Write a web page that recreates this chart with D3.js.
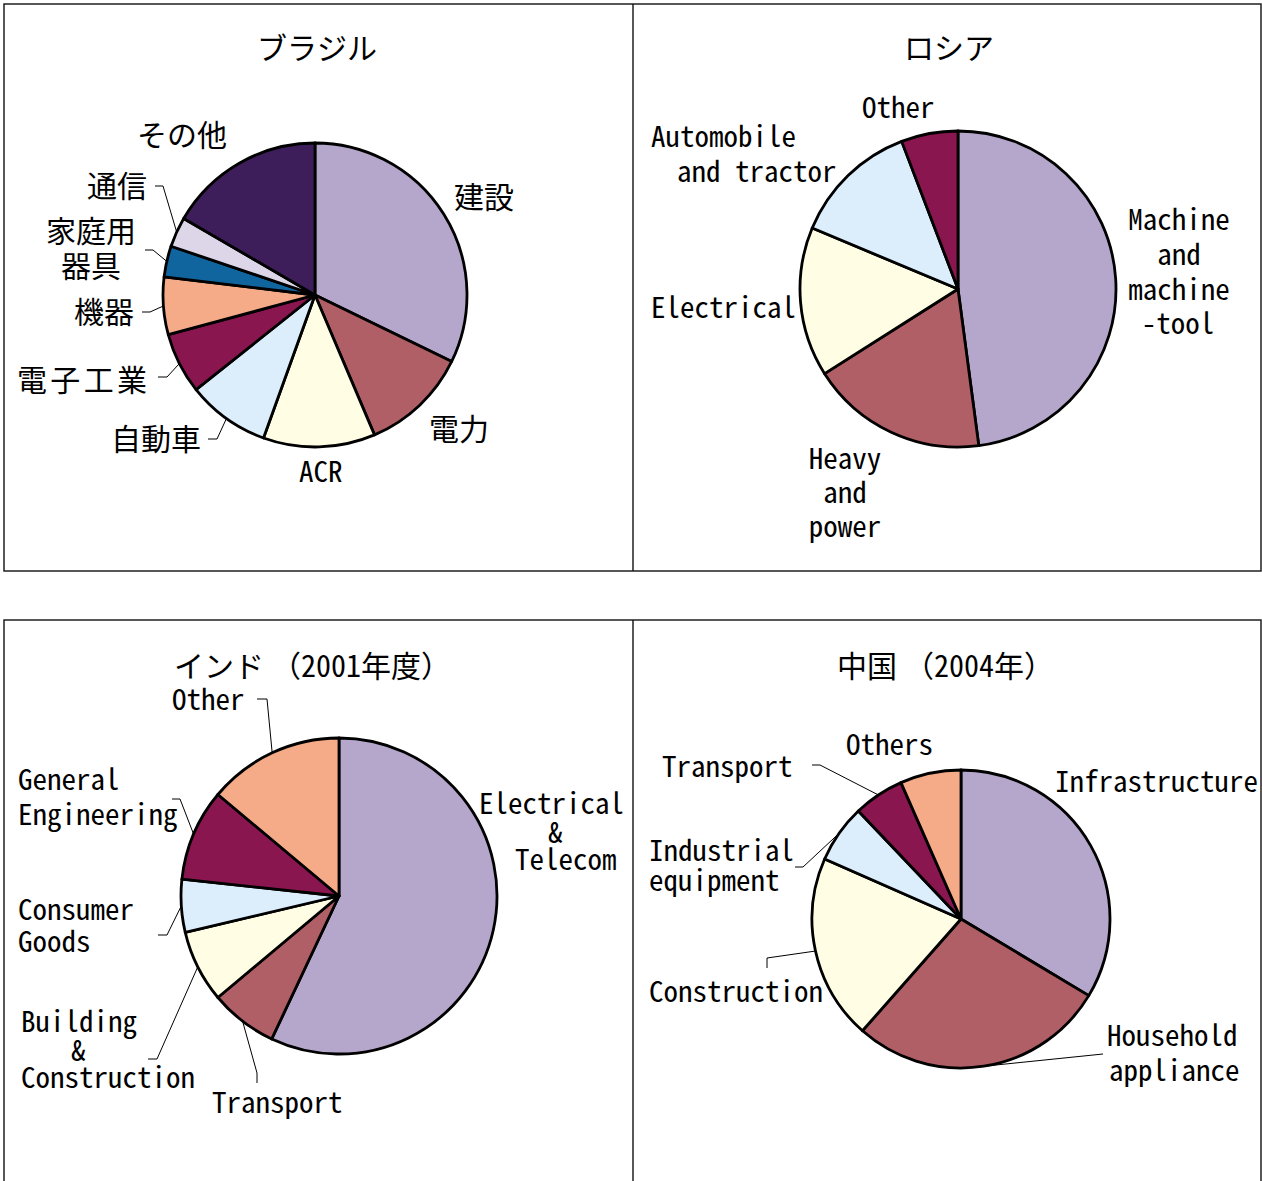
<!DOCTYPE html>
<html><head><meta charset="utf-8">
<script src="https://cdn.jsdelivr.net/npm/d3@7"></script>
<style>body{margin:0;background:#fff} svg{display:block}</style>
</head><body>
<svg id="c" width="1262" height="1181"></svg>
<script>
// ---------------- data ----------------
const brazilCategories = ["建設","電力","ACR","自動車","電子工業","機器","家庭用\n器具","通信","その他"];
const brazilValues     = [32.2, 11.4, 11.9, 8.8, 6.5, 6.1, 3.3, 3.2, 16.6];

const russiaCategories = ["Machine\nand\nmachine\n-tool","Heavy\nand\npower","Electrical","Automobile\nand tractor","Other"];
const russiaValues     = [47.9, 18.1, 15.3, 12.9, 5.8];

const indiaCategories  = ["Electrical\n&\nTelecom","Transport","Building\n&\nConstruction","Consumer\nGoods","General\nEngineering","Other"];
const indiaValues      = [57.0, 6.9, 7.4, 5.4, 9.4, 13.9];

const chinaCategories  = ["Infrastructure","Household\nappliance","Construction","Industrial\nequipment","Transport","Others"];
const chinaValues      = [33.6, 27.9, 20.1, 6.3, 5.5, 6.6];

const panelTitles = ["ブラジル","ロシア","インド（2001年度）","中国（2004年）"];

// ---------------- styles / layout ----------------
const C = {lav:"#B5A7CB", rose:"#B05F67", cream:"#FFFDE4", sky:"#DCEEFB", wine:"#8A1650",
           salmon:"#F5AB87", blue:"#10659E", lilac:"#DDD5E8", plum:"#3D1E5B"};
const MONO = "'Noto Sans Mono CJK JP'";
const PROP = "'Noto Sans CJK JP','Noto Sans',sans-serif";
const CJK_FS = 30, LAT_FS = 29;

const panels = [
  { cats: brazilCategories, vals: brazilValues, title: panelTitles[0],
    cx: 315, cy: 295, r: 152, titlePos: [258, 59],
    colors: [C.lav, C.rose, C.cream, C.sky, C.wine, C.salmon, C.blue, C.lilac, C.plum],
    labels: [
      {lines:[[455,208]]},
      {lines:[[430,440]]},
      {lines:[[300,482]]},
      {lines:[[112,450]], leader:[[208,439],[217,439]]},
      {lines:[[18,391]], w:130, leader:[[158,377],[167,377]]},
      {lines:[[75,323]], leader:[[142,312],[150,312]]},
      {lines:[[47,242],[62,277]], leader:[[145,250],[153,250]]},
      {lines:[[88,197]], leader:[[155,186],[163,186]]},
      {lines:[[138,146]]}
    ]},
  { cats: russiaCategories, vals: russiaValues, title: panelTitles[1],
    cx: 958, cy: 289, r: 158, titlePos: [905, 59],
    colors: [C.lav, C.rose, C.cream, C.sky, C.wine],
    labels: [
      {mid:true, lines:[[1179,230],[1179,265],[1179,300],[1178,334]]},
      {mid:true, lines:[[845,469],[845,503],[845,537]]},
      {lines:[[652,318]]},
      {lines:[[652,147],[678,182]]},
      {lines:[[863,118]]}
    ]},
  { cats: indiaCategories, vals: indiaValues, title: panelTitles[2],
    cx: 339, cy: 896, r: 158, titlePos: [175, 677], titleGap: 7,
    colors: [C.lav, C.rose, C.cream, C.sky, C.wine, C.salmon],
    labels: [
      {lines:[[480,814],[549,843],[516,870]]},
      {lines:[[213,1113]], leader:[[257,1083],[257,1073]]},
      {lines:[[22,1032],[72,1061],[22,1088]], leader:[[148,1059],[157,1059]]},
      {lines:[[19,920],[19,952]], leader:[[158,935],[167,935]]},
      {lines:[[19,790],[19,825]], leader:[[172,799],[180,799]]},
      {lines:[[173,710]], leader:[[257,699],[267,699]]}
    ]},
  { cats: chinaCategories, vals: chinaValues, title: panelTitles[3],
    cx: 961, cy: 919, r: 149, titlePos: [838, 677], titleGap: 7,
    colors: [C.lav, C.rose, C.cream, C.sky, C.wine, C.salmon],
    labels: [
      {lines:[[1056,792]]},
      {lines:[[1108,1046],[1110,1081]], leader:[[1103,1054]]},
      {lines:[[650,1002]], leader:[[767,968],[767,958]]},
      {lines:[[650,861],[650,891]], leader:[[795,867],[803,867]]},
      {lines:[[663,777]], leader:[[812,765],[820,765]]},
      {lines:[[847,755]]}
    ]}
];

// ---------------- drawing ----------------
const svg = d3.select("#c");
svg.append("rect").attr("width",1262).attr("height",1181).attr("fill","#fff");

// detect a half-width monospace CJK font (MS Gothic-like metrics)
let monoOK = false;
{
  const t1 = svg.append("text").attr("font-family", MONO).attr("font-size", 30).text("iiiiiiii");
  const t2 = svg.append("text").attr("font-family", MONO).attr("font-size", 30).text("MMMMMMMM");
  const a = t1.node().getComputedTextLength(), b = t2.node().getComputedTextLength();
  monoOK = Math.abs(a - b) < 1 && Math.abs(a - 120) < 3;
  t1.remove(); t2.remove();
}
const FONT = monoOK ? MONO + "," + PROP : PROP;

// frames
const frame = svg.append("g").attr("fill","none").attr("stroke","#111").attr("stroke-width",1.4);
frame.append("rect").attr("x",4).attr("y",4).attr("width",1257).attr("height",567);
frame.append("line").attr("x1",633).attr("x2",633).attr("y1",4).attr("y2",571);
frame.append("rect").attr("x",4).attr("y",620).attr("width",1257).attr("height",600);
frame.append("line").attr("x1",633).attr("x2",633).attr("y1",620).attr("y2",1181);

function units(s){ let u=0; for(const ch of s){ u += ch.charCodeAt(0) < 128 ? 0.5 : 1; } return u; }

function drawText(g, s, x, y, mid, wOverride){
  const cjk = /[^\x00-\x7f]/.test(s);
  const fs = cjk ? CJK_FS : LAT_FS;
  const w = wOverride || units(s) * fs;
  const x0 = mid ? x - w/2 : x - 1;
  const t = g.append("text").attr("x", x0).attr("y", y)
    .attr("font-family", FONT).attr("font-size", fs)
    .attr("fill","#000").text(s);
  if (!monoOK || wOverride) t.attr("textLength", w).attr("lengthAdjust", monoOK ? "spacing" : "spacingAndGlyphs");
  return t;
}

function drawTitle(g, s, x, y, gap){
  const t = g.append("text").attr("x", x - 1).attr("y", y)
    .attr("font-family", FONT).attr("font-size", CJK_FS).attr("fill", "#000");
  const k = s.indexOf("（");
  if (k < 0 || !gap) { t.text(s); return; }
  t.append("tspan").text(s.slice(0, k));
  t.append("tspan").attr("dx", gap).text(s.slice(k));
}

const pie = d3.pie().sort(null).value(d => d);

panels.forEach(p => {
  const g = svg.append("g");
  const arcs = pie(p.vals);
  const arc = d3.arc().innerRadius(0).outerRadius(p.r);
  const pg = g.append("g").attr("transform", `translate(${p.cx},${p.cy})`);
  pg.selectAll("path").data(arcs).join("path")
    .attr("d", arc)
    .attr("fill", (d,i) => p.colors[i])
    .attr("stroke", "#000").attr("stroke-width", 2.8).attr("stroke-linejoin","round");

  drawTitle(g, p.title, p.titlePos[0], p.titlePos[1], p.titleGap);

  const line = d3.line();
  arcs.forEach((d, i) => {
    const L = p.labels[i];
    const parts = p.cats[i].split("\n");
    parts.forEach((t, k) => drawText(g, t, L.lines[k][0], L.lines[k][1], L.mid, parts.length === 1 ? L.w : null));
    if (L.leader) {
      const a = (d.startAngle + d.endAngle) / 2;
      const edge = [p.cx + p.r * Math.sin(a), p.cy - p.r * Math.cos(a)];
      g.append("path").attr("d", line(L.leader.concat([edge])))
        .attr("fill","none").attr("stroke","#000").attr("stroke-width",1);
    }
  });
});
</script>
</body></html>
